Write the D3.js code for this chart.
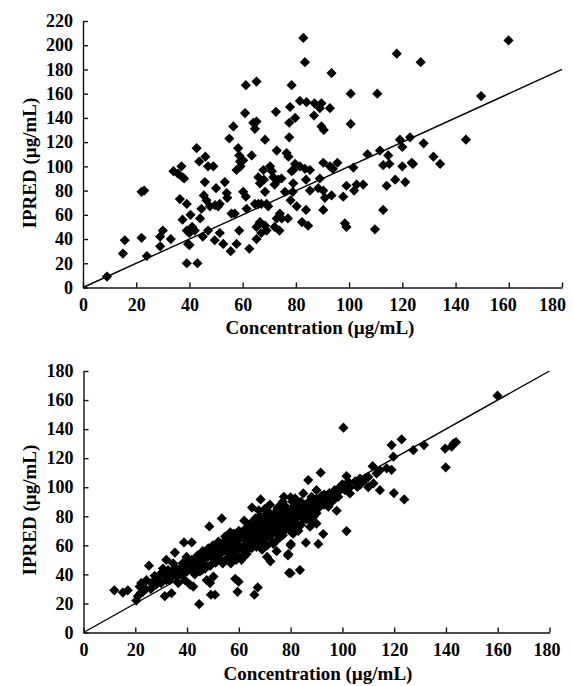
<!DOCTYPE html>
<html>
<head>
<meta charset="utf-8">
<script src="https://d3js.org/d3.v7.min.js"></script>
<style>
	body { margin: 0; background: #fff; }
	text { font-family: 'Liberation Serif', 'Times New Roman', serif; font-weight: bold; }
</style>
</head>
<body>
<div id="chart-area"></div>
<script>
// observed concentration vs IPRED, [conc, ipred]
let topPoints = [
	[9, 9], [15, 28], [15.7, 39], [22, 41], [22, 79], [23, 80], [24, 26], [29, 34], [29, 42], [30, 47],
	[33, 40], [34, 96], [35.7, 94], [36.4, 73], [37, 100], [37.4, 91], [38, 90], [37.4, 56], [39, 69], [39, 47],
	[39.5, 36], [40, 35], [39, 20], [43, 20], [40, 45], [41, 50], [40.4, 60], [42, 47], [42.7, 115], [43.7, 104],
	[44, 57], [44.5, 65], [45, 42], [45.8, 87], [46, 108], [45.4, 76], [46.4, 72], [47, 47], [47, 100], [49, 100],
	[47.7, 67], [49.6, 68], [50.8, 67], [51.4, 69], [49.5, 39], [50, 82], [51.4, 45], [52.7, 36], [53.3, 87], [54, 78],
	[54.2, 74], [55, 123], [55.5, 30], [55.8, 61], [56.5, 133], [57, 61], [57.7, 97], [57.7, 36], [58.3, 115], [58.7, 109],
	[58.7, 47], [59, 104], [59.2, 100], [60.2, 105], [60.2, 79], [60.9, 144], [61.2, 75], [61.2, 167], [61.5, 65], [62.5, 32],
	[63.4, 109], [64, 136], [64.6, 131], [65.2, 170], [65.2, 137], [64.6, 69], [65.2, 40], [65.9, 69], [65.9, 91], [65.2, 50],
	[66.5, 86], [66.5, 54], [67, 69], [67, 45], [67.8, 97], [68, 89], [68.4, 79], [68.4, 51], [69, 69], [68.4, 122],
	[69, 47], [69.6, 67], [70.3, 100], [71, 96], [71.5, 91], [72, 85], [72, 50], [72.5, 145], [72.8, 113], [72.8, 57],
	[73.4, 89], [73.8, 47], [74, 61], [74.7, 57], [75.9, 79], [76.5, 111], [77, 57], [77.2, 108], [77.5, 124], [77.5, 136],
	[77.8, 149], [78.4, 167], [78, 72], [79, 86], [78.8, 79], [79, 97], [79.7, 140], [79.7, 102], [80.3, 67],
	[82.8, 206], [83.4, 186], [93.4, 177], [117.9, 193], [126.9, 186], [159.9, 204], [100.6, 160], [110.6, 160], [81.5, 154], [84, 153],
	[87, 152], [89.6, 152], [89, 148], [92.8, 148], [86.8, 142], [100.6, 135], [89.6, 133], [90.5, 130], [149.6, 158], [143.9, 122],
	[119.1, 122], [122.9, 124], [120, 116], [128, 119], [111.6, 113], [106.9, 110], [114.7, 109], [131.7, 108], [134.2, 102], [123.5, 103],
	[124, 102], [120, 100], [112.8, 101], [115.1, 102], [101.6, 99], [90.3, 103], [92.8, 100], [95.6, 103], [81.5, 100], [83.4, 98],
	[85.3, 97], [78.4, 96], [74.6, 90], [83.8, 89], [89, 90], [93.9, 98], [99, 84], [102.8, 85], [105.3, 85], [101.9, 80],
	[114.1, 84], [117.3, 89], [121.1, 87], [85.3, 80], [88.4, 82], [90.3, 80], [90.9, 74], [93.4, 76], [97.8, 75], [83.8, 64],
	[90.3, 64], [112.8, 64], [82.3, 54], [84.6, 51], [98.4, 53], [99, 50], [109.7, 48]
]

let bottomPoints = [
	[11.9, 29], [15.2, 27.5], [17.1, 29], [20.4, 22], [21, 25], [21.7, 31.6], [22.3, 34], [24.3, 36], [25.3, 46], [26.2, 34],
	[27.5, 39], [28.1, 33], [29.2, 36], [30.1, 41], [30.7, 44], [31.4, 25], [32, 50], [31.8, 38.5], [32.7, 43], [33.3, 36],
	[34, 27], [34.6, 47.6], [35.3, 55], [35.9, 38.5], [36.6, 34], [37.2, 43], [38.3, 47.6], [38.8, 62], [39.2, 36], [39.8, 52],
	[40.5, 45], [41.1, 33], [41.8, 62], [41.8, 50], [42.4, 31.6], [43.1, 41], [43.7, 46.5], [44.7, 19.5], [45, 51], [45.7, 43],
	[46.3, 54.5], [47, 46.5], [47.6, 36], [48.2, 58], [48.6, 73], [48.9, 34], [49.2, 26], [49.5, 52], [50.2, 38.5], [50.8, 26],
	[50.8, 57], [51.5, 52], [52.1, 62.5], [52.8, 54.5], [53.4, 78.5], [53.8, 47.6], [54.1, 59], [54.7, 66], [55.4, 51], [56, 57],
	[56.7, 69], [56.9, 47.6], [57.7, 61], [58, 54.5], [58.6, 37], [59.5, 28], [59.9, 66], [59.9, 35], [60.3, 52], [60.6, 59],
	[61.2, 69], [61.9, 52], [62.1, 77], [62.5, 64], [62.9, 72], [63.2, 57], [63.8, 66], [64.5, 75], [64.7, 60], [65.1, 86],
	[65.5, 69], [66, 26], [66.4, 78.5], [66.8, 59], [67.3, 31], [67.7, 84], [68.1, 66], [68.4, 91.6], [68.6, 73], [69, 57],
	[69.6, 80], [69.9, 64], [70.3, 70.5], [70.9, 52], [70.9, 76], [71.6, 82], [72, 66], [72.2, 49], [72.9, 75], [73.3, 61],
	[73.5, 81], [74.2, 69], [74.6, 56], [74.8, 84.5], [75.5, 75], [76.1, 66], [76.4, 88], [76.8, 80], [77.4, 93.4], [77.7, 73],
	[78.1, 86.6], [78.5, 77], [79, 53], [79.4, 41], [79.8, 83], [80, 60], [80.3, 69], [80.7, 90], [81, 75],
	[100.4, 141], [119, 129], [122.9, 133], [127.4, 125.5], [131.5, 129], [139.7, 126.6], [142.9, 130], [143.9, 131], [142.2, 128], [139.9, 113.6],
	[159.9, 163], [119.7, 121], [111.7, 114.5], [114.5, 111.7], [117.1, 113], [119, 112], [119.9, 96], [123.9, 91.6], [114.5, 98], [112, 102.6],
	[108.7, 104.9], [106.8, 106], [105.8, 100.3], [101.6, 107.6], [102.3, 103.7], [102.9, 95.7], [99.1, 100.3], [91.6, 110], [86.8, 104.9], [96.5, 94.6],
	[97.8, 83.8], [101.6, 69.8], [92.6, 67.8], [90, 75], [90.7, 61], [85.9, 61.8], [80.1, 61], [79.1, 54], [80, 40.8], [83.6, 43],
	[88.8, 79.7], [83.6, 86.6], [92.6, 89.3], [94.6, 86.6], [88.1, 93.4], [84.9, 95.7], [81.7, 92.3], [90, 98], [95.2, 91], [98.4, 93.4],
	[104.9, 103.7], [110, 107], [113.2, 109.5], [82.3, 75], [86.2, 80.8], [78.5, 82], [81, 68], [87.5, 72.8], [77.8, 70.5],
	[56, 62], [57, 66], [58, 68], [59, 63], [60, 70], [61, 66], [62, 60], [63, 70], [64, 68], [65, 72],
	[66, 70], [67, 75], [68, 70], [69, 74], [70, 78], [71, 72], [72, 78], [73, 76], [74, 80], [75, 78],
	[76, 82], [77, 79], [78, 84], [79, 80], [80, 85], [81, 82], [82, 88], [83, 84], [84, 80], [85, 86],
	[86, 84], [87, 90], [88, 86], [89, 88], [90, 92], [91, 86], [92, 90], [93, 95], [94, 92], [95, 96],
	[96, 90], [97, 98], [98, 96], [68, 80], [70, 66], [72, 68], [74, 72], [76, 70], [78, 74], [80, 76],
	[82, 72], [84, 74], [86, 78], [88, 76], [90, 82], [66, 64], [64, 60], [62, 56], [60, 58], [58, 56],
	[54, 56], [52, 58], [50, 56], [48, 52], [46, 50], [44, 48], [42, 48], [40, 42], [38, 40], [36, 40],
	[34, 38], [32, 36], [30, 34], [28, 36], [26, 30], [24, 30], [23, 28], [22, 27], [70, 85], [72, 88],
	[75, 86], [77, 90], [80, 93], [82, 91], [84, 90], [85, 78], [83, 70], [81, 78], [79, 72], [77, 67],
	[75, 64], [73, 62], [71, 60], [69, 62], [67, 62], [65, 58], [63, 54], [61, 50], [59, 50], [57, 52],
	[55, 50], [53, 50], [51, 48], [49, 46], [47, 44], [45, 42], [43, 40], [65, 64], [67, 68], [69, 68],
	[71, 70], [73, 72], [75, 74], [77, 76], [79, 78], [81, 80], [83, 80], [85, 82], [87, 82], [89, 84],
	[91, 92], [93, 88], [95, 90], [97, 92], [99, 98], [100, 102], [101, 98], [103, 100], [105, 104], [107, 102],
	[109, 106], [110, 100],
	[44, 53], [46, 56], [48, 55], [50, 60], [52, 52], [54, 62], [56, 54], [58, 60], [60, 64], [62, 68],
	[64, 64], [66, 74], [68, 76], [70, 74], [72, 82], [74, 76], [76, 86], [78, 78], [80, 80], [82, 84],
	[84, 86], [86, 88], [88, 90], [90, 88], [92, 94], [38, 45], [40, 48], [42, 44], [36, 44], [34, 42]
]

let xTicks = [0, 20, 40, 60, 80, 100, 120, 140, 160, 180]
let topYTicks = [0, 20, 40, 60, 80, 100, 120, 140, 160, 180, 200, 220]
let bottomYTicks = [0, 20, 40, 60, 80, 100, 120, 140, 160, 180]
let identityLine = [[0, 0], [180, 180]]

let svg = d3.select('#chart-area').append('svg')
	.attr('width', 573)
	.attr('height', 686)

const drawPanel = (panel) => {
	let x = d3.scaleLinear().domain([0, 180]).range([panel.left, panel.right])
	let y = d3.scaleLinear().domain([0, panel.yMax]).range([panel.bottom, panel.top])

	let g = svg.append('g')

	// X AXIS
	let xAxisGroup = g.append('g')
		.attr('transform', 'translate(0, ' + panel.bottom + ')')
		.call(d3.axisBottom(x).tickValues(xTicks).tickSizeInner(-5).tickSizeOuter(0).tickPadding(11))

	// labels near the right end sit a little to the left of their ticks
	xAxisGroup.selectAll('.tick text')
		.attr('dx', d => panel.labelShift[d] || 0)

	// Y AXIS
	let yAxisGroup = g.append('g')
		.attr('transform', 'translate(' + panel.left + ', 0)')
		.call(d3.axisLeft(y).tickValues(panel.yTicks).tickSizeInner(-5).tickSizeOuter(0).tickPadding(10))

	g.selectAll('.domain, .tick line')
		.attr('stroke', '#111')
		.attr('stroke-width', 1.4)
	g.selectAll('.tick text')
		.attr('fill', '#000')
		.style('font-size', '18px')
		.style('font-family', "'Liberation Serif', serif")
		.style('font-weight', 'bold')

	// identity line
	g.append('path')
		.datum(identityLine)
		.attr('fill', 'none')
		.attr('stroke', '#000')
		.attr('stroke-width', 1.4)
		.attr('d', d3.line().x(d => x(d[0])).y(d => y(d[1])))

	let symbol = d3.symbol(d3.symbolSquare, 52)
	g.selectAll('path.pt')
		.data(panel.points)
		.enter()
		.append('path')
			.attr('class', 'pt')
			.attr('d', symbol)
			.attr('fill', '#000')
			.attr('transform', d => 'translate(' + x(d[0]) + ',' + y(d[1]) + ') rotate(45)')

	g.append('text')
		.attr('x', panel.xTitleX)
		.attr('y', panel.xTitleY)
		.attr('text-anchor', 'middle')
		.style('font-size', '19px')
		.text('Concentration (\u00b5g/mL)')

	g.append('text')
		.attr('transform', 'translate(36, ' + panel.yTitleY + ') rotate(-90)')
		.attr('text-anchor', 'middle')
		.style('font-size', '19px')
		.text('IPRED (\u00b5g/mL)')
}

drawPanel({ points: topPoints, yMax: 220, yTicks: topYTicks, left: 83, right: 562, top: 21, bottom: 287.5, labelShift: { 160: -6, 180: -10 }, xTitleX: 320, xTitleY: 334, yTitleY: 163 })
drawPanel({ points: bottomPoints, yMax: 180, yTicks: bottomYTicks, left: 83.5, right: 549.5, top: 371, bottom: 632.5, labelShift: { 180: -3 }, xTitleX: 318, xTitleY: 680, yTitleY: 510 })
</script>
</body>
</html>
